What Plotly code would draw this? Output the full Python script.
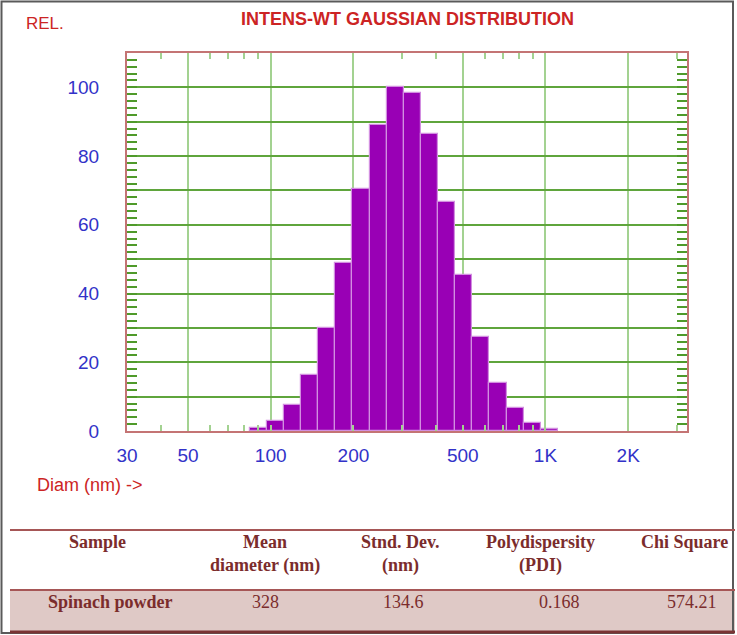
import numpy as np
import plotly.graph_objects as go

# ---------------- data ----------------
diameters_nm = [90, 104, 120, 138, 160, 184, 213, 246, 284, 328, 378, 437, 504, 582, 672, 776, 896, 1035]
intensity_rel = [1.0, 2.9, 7.7, 16.2, 30.1, 49.0, 70.4, 89.0, 100.0, 98.4, 86.5, 66.5, 45.3, 27.3, 14.1, 6.6, 2.4, 0.5]

x_tick_values = [30, 50, 100, 200, 500, 1000, 2000]
x_tick_labels = ["30", "50", "100", "200", "500", "1K", "2K"]
x_minor_values = [40, 60, 70, 80, 90, 300, 400, 600, 700, 800, 900, 3000]
y_tick_values = [0, 10, 20, 30, 40, 50, 60, 70, 80, 90, 100]
y_tick_labels = ["0", "", "20", "", "40", "", "60", "", "80", "", "100"]

table_headers = [["Sample"], ["Mean", "diameter (nm)"], ["Stnd. Dev.", "(nm)"],
                 ["Polydispersity", "(PDI)"], ["Chi Square"]]
table_row = ["Spinach powder", "328", "134.6", "0.168", "574.21"]

# ---------------- geometry / style ----------------
W, H = 737, 635
L, R, T, B = 127, 687, 53, 431


def fx(px):
    return (px - L) / (R - L)


def fy(py):
    return (B - py) / (B - T)


SANS = "Liberation Sans, Arial, sans-serif"
SERIF = "Liberation Serif, Times New Roman, serif"
RED = "#cc2424"
BLUE = "#3232c8"
GREEN_H = "#5fa53c"
GREEN_V = "#a3d291"
TICK_G = "#4f9a2a"
FRAME = "#c47474"
MAROON = "#7b2c2c"

logx = np.log10(diameters_nm)
bar_w = float(np.diff(logx).mean())

fig = go.Figure()
fig.add_trace(go.Bar(
    x=logx,
    y=intensity_rel,
    width=bar_w,
    marker=dict(color="#9900b5", line=dict(color="#d28ee0", width=1.2)),
    showlegend=False,
    hoverinfo="skip",
))

fig.update_layout(
    width=W, height=H,
    margin=dict(l=L, r=W - R, t=T, b=H - B, pad=0),
    paper_bgcolor="white",
    plot_bgcolor="white",
    bargap=0,
    xaxis=dict(
        range=[np.log10(30), np.log10(3273)],
        tickmode="array",
        tickvals=np.log10(x_tick_values),
        ticktext=x_tick_labels,
        ticks="inside", ticklen=6, tickwidth=2, tickcolor=GREEN_V,
        showgrid=True, gridcolor=GREEN_V, gridwidth=2,
        zeroline=False,
        showline=True, linecolor=FRAME, linewidth=2, mirror="ticks",
        tickfont=dict(family=SANS, size=19, color=BLUE),
        ticklabelstandoff=6,
        minor=dict(tickmode="array", tickvals=np.log10(x_minor_values),
                   ticks="inside", ticklen=6, tickwidth=2, tickcolor=GREEN_V,
                   showgrid=False),
        fixedrange=True,
    ),
    yaxis=dict(
        range=[0, 110],
        tickmode="array",
        tickvals=y_tick_values,
        ticktext=y_tick_labels,
        ticks="inside", ticklen=10, tickwidth=1.5, tickcolor=TICK_G,
        showgrid=True, gridcolor=GREEN_H, gridwidth=1.6,
        zeroline=False,
        showline=True, linecolor=FRAME, linewidth=2, mirror="ticks",
        tickfont=dict(family=SANS, size=19, color=BLUE),
        ticklabelstandoff=22,
        minor=dict(dtick=2, ticks="inside", ticklen=10, tickwidth=1.5,
                   tickcolor=TICK_G, showgrid=False),
        fixedrange=True,
    ),
)

ann = []
# chart texts
ann.append(dict(text="<b>INTENS-WT GAUSSIAN DISTRIBUTION</b>", x=fx(407), y=fy(19),
                font=dict(family=SANS, size=18, color=RED)))
ann.append(dict(text="REL.", x=fx(45), y=fy(23),
                font=dict(family=SANS, size=17, color=RED)))
ann.append(dict(text="Diam (nm) ->", x=fx(35), y=fy(485), xanchor="left",
                font=dict(family=SANS, size=18, color=RED)))

# table texts
head_x = [97, 265, 400, 540, 684]
head_y = [542, 565]
row_x = [110, 265, 403, 559, 692]
for lines, x in zip(table_headers, head_x):
    for j, txt in enumerate(lines):
        ann.append(dict(text="<b>" + txt + "</b>", x=fx(x), y=fy(head_y[j]),
                        font=dict(family=SERIF, size=18, color=MAROON)))
for i, (txt, x) in enumerate(zip(table_row, row_x)):
    t = "<b>" + txt + "</b>" if i == 0 else txt
    ann.append(dict(text=t, x=fx(x), y=fy(602),
                    font=dict(family=SERIF, size=18, color=MAROON)))

for a in ann:
    a.setdefault("xanchor", "center")
    a.setdefault("yanchor", "middle")
    a.update(xref="paper", yref="paper", showarrow=False)
fig.update_layout(annotations=ann)

shapes = [
    # outer frame
    dict(type="rect", x0=fx(1.5), x1=fx(733), y0=fy(1.5), y1=fy(633),
         line=dict(color="#5a5a5a", width=2), fillcolor="rgba(0,0,0,0)"),
    # table row fill
    dict(type="rect", x0=fx(10), x1=fx(735), y0=fy(590), y1=fy(631),
         line=dict(width=0), fillcolor="#dfc9c6", layer="below"),
    # table lines
    dict(type="line", x0=fx(10), x1=fx(735), y0=fy(530), y1=fy(530),
         line=dict(color="#a65656", width=2)),
    dict(type="line", x0=fx(10), x1=fx(735), y0=fy(590), y1=fy(590),
         line=dict(color="#a65656", width=2)),
    dict(type="line", x0=fx(10), x1=fx(735), y0=fy(632), y1=fy(632),
         line=dict(color="#7a3434", width=3)),
]
for s in shapes:
    s.update(xref="paper", yref="paper")
fig.update_layout(shapes=shapes)

fig.write_html("out.html", config={"displayModeBar": False},
               post_script="document.body.style.margin='0px';")
